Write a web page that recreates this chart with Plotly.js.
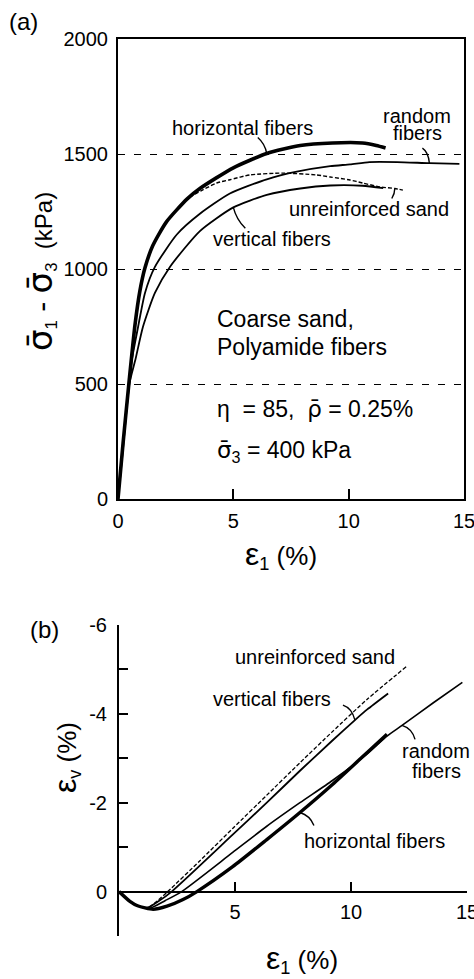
<!DOCTYPE html>
<html>
<head>
<meta charset="utf-8">
<script src="https://cdn.plot.ly/plotly-3.0.1.min.js"></script>
<style>
  html, body { margin: 0; padding: 0; background: #fff; }
  #chart { width: 474px; height: 979px; }
</style>
</head>
<body>
<div id="chart"></div>
<script>
// ---- (a) deviator stress (kPa) vs axial strain (%) ----
const strainHorizA = [0, 0.22, 0.48, 0.74, 0.95, 1.17, 1.5, 2.1, 3.0, 3.55, 5.0, 6.45, 7.9, 9.3, 10.6, 11.2, 11.6];
const stressHorizA = [0, 243, 510, 760, 905, 1005, 1100, 1205, 1305, 1350, 1440, 1502, 1537, 1548, 1548, 1537, 1526];

const strainSandA = [0, 0.22, 0.48, 0.74, 0.95, 1.17, 1.5, 2.1, 3.0, 3.6, 4.28, 4.85, 5.72, 7.15, 8.6, 9.2, 10.06, 10.6, 11.35, 12.0, 12.35];
const stressSandA = [0, 243, 510, 760, 905, 1005, 1100, 1205, 1305, 1340, 1374, 1388, 1409, 1417, 1409, 1400, 1387, 1374, 1357, 1350, 1343];

const strainRandA = [0, 0.2, 0.48, 0.6, 0.87, 1.17, 1.6, 2.55, 3.55, 4.85, 6.45, 7.75, 9.2, 10.06, 10.9, 12.1, 13.5, 14.8];
const stressRandA = [0, 220, 504, 604, 748, 896, 1009, 1150, 1240, 1328, 1390, 1423, 1447, 1455, 1465, 1465, 1460, 1457];

const strainVertA = [0, 0.2, 0.5, 0.75, 1.08, 1.6, 2.25, 3.55, 5.0, 6.45, 7.9, 9.2, 10.6, 11.5];
const stressVertA = [0, 200, 504, 604, 748, 896, 1009, 1165, 1268, 1322, 1350, 1363, 1362, 1352];

// ---- (b) volumetric strain (%) vs axial strain (%) ----
const strainSandB = [0, 0.47, 0.77, 1.2, 1.63, 2.1, 3.5, 4.9, 6.37, 7.8, 9.2, 10.7, 12.4];
const volSandB    = [0, 0.22, 0.31, 0.38, 0.22, 0, -0.7, -1.42, -2.17, -2.9, -3.6, -4.33, -5.07];

const strainVertB = [0, 0.47, 0.77, 1.2, 1.7, 2.27, 4.9, 6.37, 7.8, 9.2, 10.17, 10.7, 11.6];
const volVertB    = [0, 0.22, 0.31, 0.37, 0.22, 0, -1.28, -2.0, -2.72, -3.4, -3.86, -4.1, -4.46];

const strainRandB = [0, 0.47, 0.77, 1.3, 2.0, 2.7, 4.9, 6.37, 7.8, 9.2, 10.7, 11.55, 12.2, 13.55, 14.8];
const volRandB    = [0, 0.22, 0.31, 0.38, 0.2, 0, -0.88, -1.47, -2.0, -2.5, -3.1, -3.5, -3.74, -4.25, -4.71];

const strainHorizB = [0, 0.47, 0.8, 1.47, 2.07, 2.76, 3.36, 4.9, 6.37, 7.8, 9.2, 10.7, 11.55];
const volHorizB    = [0, 0.22, 0.32, 0.4, 0.33, 0.18, 0, -0.56, -1.17, -1.78, -2.41, -3.13, -3.54];

// tick values
const xTicksA = [0, 5, 10, 15];
const yTicksA = [0, 500, 1000, 1500, 2000];
const xTicksB = [5, 10, 15];
const yTicksB = [-6, -4, -2, 0];
const yMinorB = [-5, -3, -1, 1];

const W = 474, H = 979;
const px = v => v / W;          // pixel -> paper x
const py = v => 1 - v / H;      // pixel -> paper y
const FONT = 'Liberation Sans, Arial, Helvetica, sans-serif';
// barred Greek letters, set in DejaVu so the combining macron sits on the glyph
const bar = ch => '<span style="font-family:DejaVu Sans">' + ch + '\u0304</span>';

function curve(x, y, xa, ya, width, dash) {
  return {
    type: 'scatter', mode: 'lines', x: x, y: y, xaxis: xa, yaxis: ya,
    line: { color: '#000', width: width, dash: dash || 'solid', shape: 'spline', smoothing: 0.6 },
    hoverinfo: 'skip', showlegend: false
  };
}

const traces = [
  curve(strainRandA, stressRandA, 'x', 'y', 1.8),
  curve(strainVertA, stressVertA, 'x', 'y', 1.8),
  curve(strainHorizA, stressHorizA, 'x', 'y', 3.6),
  curve(strainSandA, stressSandA, 'x', 'y', 1.4, '4px,2px'),
  curve(strainRandB, volRandB, 'x2', 'y2', 1.6),
  curve(strainHorizB, volHorizB, 'x2', 'y2', 3.4),
  curve(strainVertB, volVertB, 'x2', 'y2', 1.8),
  curve(strainSandB, volSandB, 'x2', 'y2', 1.3, '4px,2px')
];

function label(text, x, y, size, opts) {
  return Object.assign({
    text: text, xref: 'paper', yref: 'paper', x: px(x), y: py(y),
    xanchor: 'center', yanchor: 'middle', showarrow: false,
    font: { family: FONT, size: size, color: '#000' }
  }, opts || {});
}

// short curved leader ending on a curve point; path in pixels relative to that point (y up)
function leader(xa, ya, x, y, path) {
  return {
    type: 'path', xref: xa, yref: ya, xsizemode: 'pixel', ysizemode: 'pixel',
    xanchor: x, yanchor: y, path: path,
    line: { color: '#000', width: 1.4 }, layer: 'above'
  };
}

const shapes = [
  leader('x', 'y', strainHorizA[11], stressHorizA[11], 'M -9,16 Q -2,10 0,0'),
  leader('x', 'y', strainRandA[16], stressRandA[16], 'M -7,15 Q -1,11 0,0'),
  leader('x', 'y', strainSandA[19], stressSandA[19], 'M -3,-10 Q 0,-5 0,0'),
  leader('x', 'y', strainVertA[8], stressVertA[8], 'M 12,-21 Q 3,-12 0,0'),
  leader('x2', 'y2', strainVertB[10], volVertB[10], 'M -12,15 Q -3,12 0,0'),
  leader('x2', 'y2', strainRandB[12], volRandB[12], 'M 13,-14 Q 10,-3 0,0'),
  leader('x2', 'y2', strainHorizB[9], volHorizB[9], 'M 14,-13 Q 10,-3 0,0')
];

const annotations = [
  label('(a)', 23, 21, 24),
  label('(b)', 44, 629, 24),

  // (a) curve names
  label('horizontal fibers', 242, 128, 20),
  label('random', 417, 116, 20),
  label('fibers', 417, 133, 20),
  label('unreinforced sand', 369, 209, 20),
  label('vertical fibers', 272, 239, 20),

  // (a) test conditions
  label('Coarse sand,', 215, 319, 23, { xanchor: 'left' }),
  label('Polyamide fibers', 215, 347, 23, { xanchor: 'left' }),
  label('\u03B7  = 85,  ' + bar('\u03C1') + ' = 0.25%', 215, 409, 23, { xanchor: 'left' }),
  label(bar('\u03C3') + '<sub>3</sub> = 400 kPa', 215, 452, 23, { xanchor: 'left' }),

  // (a) axis titles
  label('<span style="font-size:32px">\u03B5</span><sub>1</sub> (%)', 281, 555, 26),
  label('<span style="font-size:34px">' + bar('\u03C3') + '</span><sub>1</sub><span style="font-size:30px"> - </span><span style="font-size:34px">' + bar('\u03C3') + '</span><sub>3</sub>  (kPa)',
        40, 272, 24, { textangle: -90 }),

  // (b) curve names
  label('unreinforced sand', 315, 657, 20),
  label('vertical fibers', 272, 699, 20),
  label('random', 436, 751, 20),
  label('fibers', 436, 771, 20),
  label('horizontal fibers', 374, 841, 20),

  // (b) axis titles
  label('<span style="font-size:32px">\u03B5</span><sub>1</sub> (%)', 302, 959, 26),
  label('<span style="font-size:32px">\u03B5</span><sub>v</sub> (%)', 66, 758, 26, { textangle: -90 })
];

const tickFont = { family: FONT, size: 20, color: '#000' };

const layout = {
  width: W, height: H,
  margin: { l: 0, r: 0, t: 0, b: 0 },
  paper_bgcolor: '#fff', plot_bgcolor: 'rgba(0,0,0,0)',
  font: { family: FONT, color: '#000' },
  showlegend: false,
  xaxis: {
    domain: [px(118), px(464)], range: [0, 15], anchor: 'y',
    tickvals: xTicksA, ticktext: xTicksA.map(String), ticklabeloverflow: 'allow',
    ticks: 'inside', ticklen: 10, tickwidth: 2, tickcolor: '#000',
    showline: true, linewidth: 2, linecolor: '#000', mirror: true,
    showgrid: false, zeroline: false, tickfont: tickFont, ticklabelstandoff: 3
  },
  yaxis: {
    domain: [py(499), py(39)], range: [0, 2000], anchor: 'x',
    tickvals: yTicksA, ticktext: yTicksA.map(String),
    ticks: 'inside', ticklen: 7, tickwidth: 1, tickcolor: '#000',
    showline: true, linewidth: 2, linecolor: '#000', mirror: true,
    showgrid: true, gridcolor: '#000', gridwidth: 1, griddash: '7px,9px',
    zeroline: false, tickfont: tickFont, ticklabelstandoff: 4
  },
  xaxis2: {
    domain: [px(119), px(467)], range: [0, 15], anchor: 'free', position: py(892),
    tickvals: xTicksB, ticktext: xTicksB.map(String), ticklabeloverflow: 'allow',
    ticks: 'inside', ticklen: 9, tickwidth: 2, tickcolor: '#000',
    showline: true, linewidth: 2, linecolor: '#000',
    showgrid: false, zeroline: false, tickfont: tickFont, ticklabelstandoff: 2
  },
  yaxis2: {
    domain: [py(936), py(625)], range: [1, -6], anchor: 'x2',
    tickvals: yTicksB, ticktext: yTicksB.map(String),
    ticks: 'inside', ticklen: 9, tickwidth: 2, tickcolor: '#000',
    minor: { tickvals: yMinorB, ticks: 'inside', ticklen: 9, tickwidth: 2, tickcolor: '#000', showgrid: false },
    showline: true, linewidth: 2, linecolor: '#000',
    showgrid: false, zeroline: false, tickfont: tickFont, ticklabelstandoff: 6
  },
  shapes: shapes,
  annotations: annotations
};

Plotly.newPlot('chart', traces, layout, { staticPlot: true, displayModeBar: false });
</script>
</body>
</html>
